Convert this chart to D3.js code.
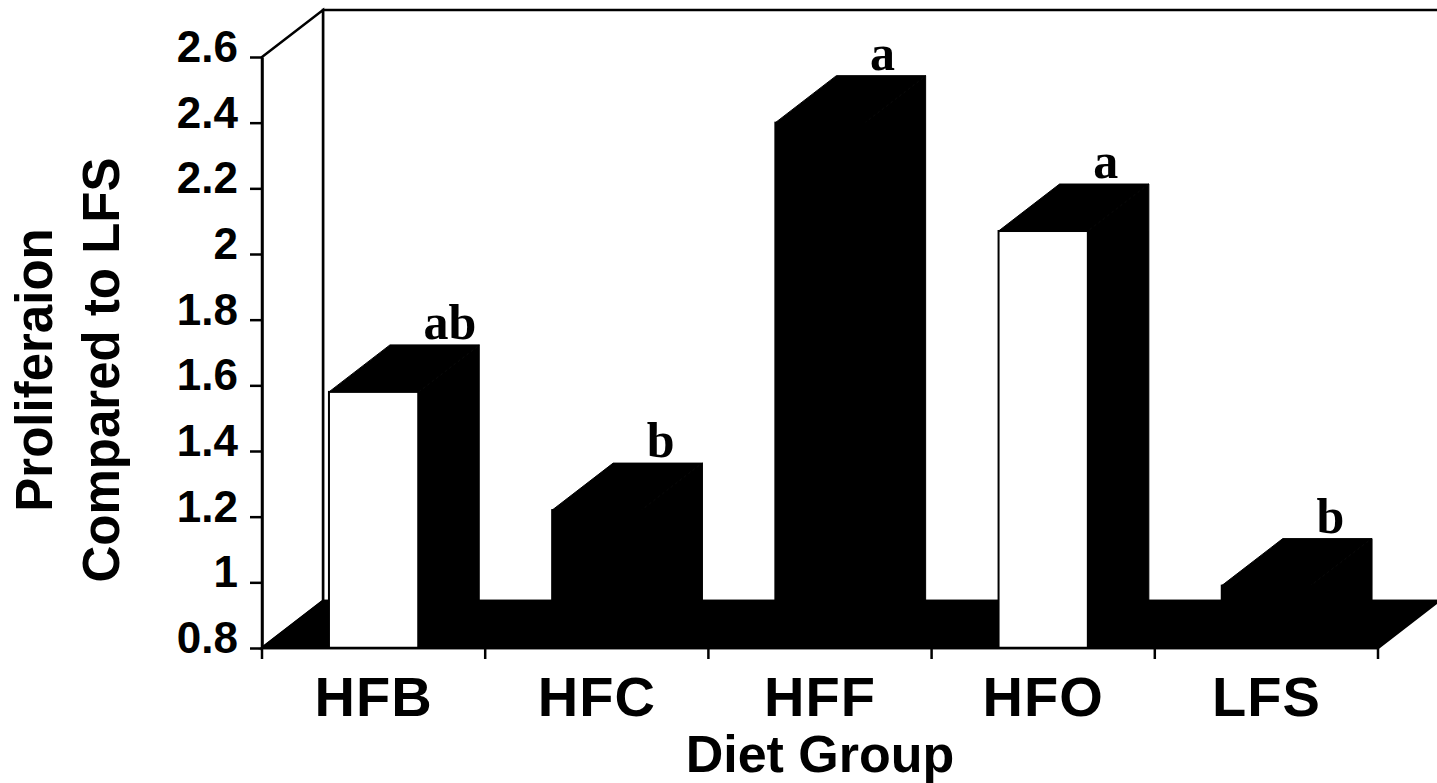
<!DOCTYPE html>
<html>
<head>
<meta charset="utf-8">
<script src="https://cdn.jsdelivr.net/npm/d3@7"></script>
<style>
  html, body { margin: 0; padding: 0; background: #fff; }
  svg { display: block; }
</style>
</head>
<body>
<svg id="chart"></svg>
<script>
// data
const categories = ["HFB", "HFC", "HFF", "HFO", "LFS"];
const values = [1.58, 1.22, 2.40, 2.07, 0.99];
const letters = ["ab", "b", "a", "a", "b"];
const frontFill = ["#fff", "#000", "#000", "#fff", "#000"];
const yTicks = [0.8, 1, 1.2, 1.4, 1.6, 1.8, 2, 2.2, 2.4, 2.6];

const width = 1437, height = 783;
const plot = {left: 262, right: 1378, top: 57, bottom: 648};
// oblique depth of the 3d box
const depth = {dx: 61, dy: -47};

const svg = d3.select('#chart')
    .attr('width', width)
    .attr('height', height);

const y = d3.scaleLinear()
    .domain([0.8, 2.6])
    .range([plot.bottom, plot.top]);

// one slot per group, bar takes the middle 40%
const xCat = d3.scaleBand()
    .domain(categories)
    .range([plot.left, plot.right]);
const x = d3.scaleBand()
    .domain(categories)
    .range([plot.left, plot.right])
    .paddingInner(0.6)
    .paddingOuter(0.3);

const pts = p => p.map(d => d.join(',')).join(' ');
const lineW = 2.5;

// back wall
svg.append('polygon')
    .attr('points', pts([
        [plot.left + depth.dx, plot.top + depth.dy],
        [plot.right + depth.dx, plot.top + depth.dy],
        [plot.right + depth.dx, plot.bottom + depth.dy],
        [plot.left + depth.dx, plot.bottom + depth.dy]
    ]))
    .attr('fill', '#fff')
    .attr('stroke', '#000')
    .attr('stroke-width', lineW);

// left wall
svg.append('polygon')
    .attr('points', pts([
        [plot.left, plot.top],
        [plot.left + depth.dx, plot.top + depth.dy],
        [plot.left + depth.dx, plot.bottom + depth.dy],
        [plot.left, plot.bottom]
    ]))
    .attr('fill', '#fff')
    .attr('stroke', '#000')
    .attr('stroke-width', lineW);

// floor
svg.append('polygon')
    .attr('points', pts([
        [plot.left, plot.bottom],
        [plot.right, plot.bottom],
        [plot.right + depth.dx, plot.bottom + depth.dy],
        [plot.left + depth.dx, plot.bottom + depth.dy]
    ]))
    .attr('fill', '#000')
    .attr('stroke', '#000')
    .attr('stroke-width', lineW);

// bars
const bars = svg.append('g')
    .selectAll('g')
    .data(categories.map((c, i) => ({name: c, value: values[i], letter: letters[i], fill: frontFill[i]})))
    .join('g');

bars.append('polygon') // side
    .attr('points', d => {
        const x1 = x(d.name) + x.bandwidth(), yv = y(d.value);
        return pts([[x1, yv], [x1 + depth.dx, yv + depth.dy], [x1 + depth.dx, plot.bottom + depth.dy], [x1, plot.bottom]]);
    })
    .attr('fill', '#000')
    .attr('stroke', '#000')
    .attr('stroke-width', 1);

bars.append('polygon') // top
    .attr('points', d => {
        const x0 = x(d.name), x1 = x0 + x.bandwidth(), yv = y(d.value);
        return pts([[x0, yv], [x0 + depth.dx, yv + depth.dy], [x1 + depth.dx, yv + depth.dy], [x1, yv]]);
    })
    .attr('fill', '#000')
    .attr('stroke', '#000')
    .attr('stroke-width', 1);

bars.append('rect') // front
    .attr('x', d => x(d.name))
    .attr('y', d => y(d.value))
    .attr('width', x.bandwidth())
    .attr('height', d => plot.bottom - y(d.value))
    .attr('fill', d => d.fill)
    .attr('stroke', '#000')
    .attr('stroke-width', 2);

bars.append('text')
    .attr('x', d => x(d.name) + x.bandwidth() / 2 + depth.dx - 11)
    .attr('y', d => y(d.value) + depth.dy - 6)
    .attr('text-anchor', 'start')
    .style('font', 'bold 50px "Liberation Serif", "DejaVu Serif", serif')
    .text(d => d.letter);

// y axis
const yAxis = d3.axisLeft(y)
    .tickValues(yTicks)
    .tickSize(12)
    .tickSizeOuter(0)
    .tickPadding(12)
    .tickFormat(d => String(+d.toFixed(1)));

svg.append('g')
    .attr('transform', `translate(${plot.left},0)`)
    .call(yAxis)
    .call(g => g.select('.domain').attr('stroke-width', lineW))
    .call(g => g.selectAll('.tick line').attr('stroke-width', lineW))
    .call(g => g.selectAll('.tick text')
        .attr('dy', '0.1em')
        .attr('fill', '#000')
        .style('font', 'bold 44px "Liberation Sans", Arial, sans-serif'));

// x axis: line, boundary ticks, centred labels
const gx = svg.append('g');
gx.append('line')
    .attr('x1', plot.left).attr('x2', plot.right)
    .attr('y1', plot.bottom).attr('y2', plot.bottom)
    .attr('stroke', '#000')
    .attr('stroke-width', lineW);

const bounds = categories.map(c => xCat(c)).concat([plot.right]);
gx.selectAll('.bt')
    .data(bounds)
    .join('line')
    .attr('class', 'bt')
    .attr('x1', d => d).attr('x2', d => d)
    .attr('y1', plot.bottom).attr('y2', plot.bottom + 11)
    .attr('stroke', '#000')
    .attr('stroke-width', lineW);

gx.selectAll('.lab')
    .data(categories)
    .join('text')
    .attr('class', 'lab')
    .attr('x', d => xCat(d) + xCat.bandwidth() / 2)
    .attr('y', 716)
    .attr('text-anchor', 'middle')
    .style('font', 'bold 56px "Liberation Sans", Arial, sans-serif')
    .style('letter-spacing', '1px')
    .text(d => d);

// axis titles
svg.append('text')
    .attr('x', (plot.left + plot.right) / 2)
    .attr('y', 772)
    .attr('text-anchor', 'middle')
    .style('font', 'bold 52px "Liberation Sans", Arial, sans-serif')
    .text('Diet Group');

const yTitle = svg.append('text')
    .attr('transform', 'translate(0,370) rotate(-90)')
    .attr('text-anchor', 'middle')
    .style('font', 'bold 51px "Liberation Sans", Arial, sans-serif');
yTitle.append('tspan')
    .attr('x', 0)
    .attr('y', 52)
    .text('Proliferaion');
yTitle.append('tspan')
    .attr('x', 0)
    .attr('y', 119)
    .text('Compared to LFS');
</script>
</body>
</html>
